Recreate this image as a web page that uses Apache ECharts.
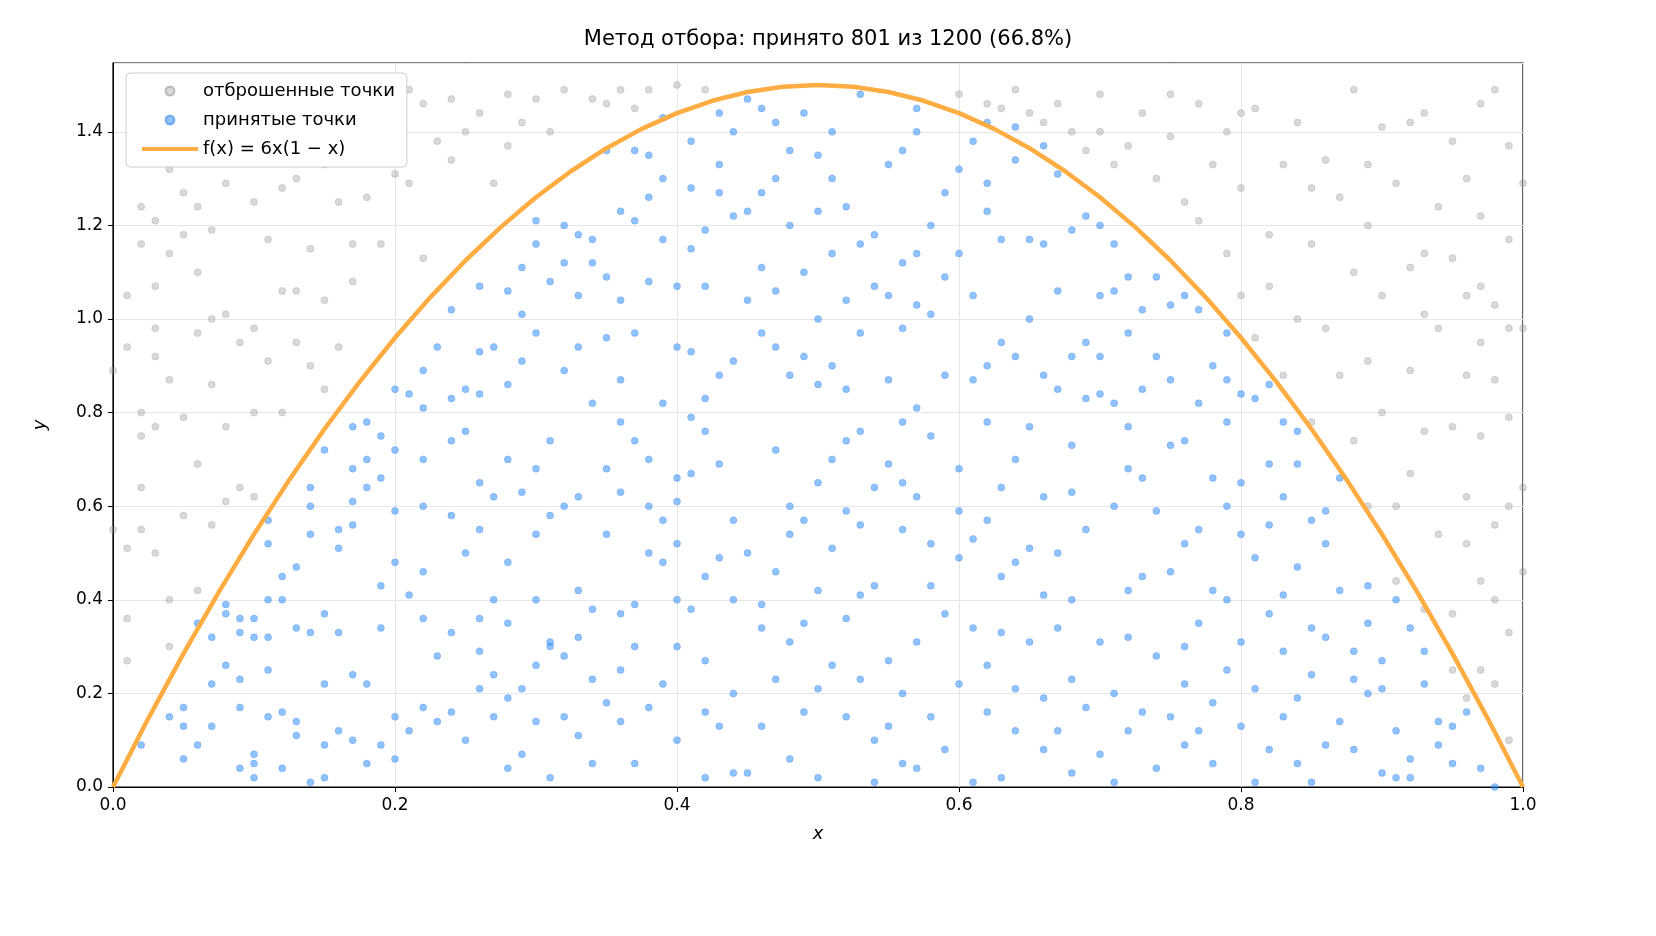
<!DOCTYPE html>
<html>
<head>
<meta charset="utf-8">
<script src="https://cdn.jsdelivr.net/npm/echarts@6/dist/echarts.min.js"></script>
<style>html,body{margin:0;padding:0;background:#fff}#chart{width:1656px;height:936px}</style>
</head>
<body>
<div id="chart"></div>
<script>
// точки (x y)
var acceptedRaw = "0.02 0.09,0.05 0.06,0.05 0.13,0.05 0.17,0.07 0.13,0.07 0.22,0.07 0.32,0.06 0.35,0.08 0.37,0.08 0.39,0.09 0.33,0.09 0.36,0.09 0.23,0.09 0.17,0.09 0.04,0.10 0.07,0.10 0.05,0.10 0.02,0.10 0.32,0.10 0.36,0.11 0.32,0.11 0.40,0.11 0.52,0.11 0.57,0.12 0.45,0.12 0.40,0.12 0.16,0.12 0.04,0.11 0.15,0.13 0.34,0.13 0.14,0.13 0.11,0.14 0.01,0.14 0.33,0.14 0.54,0.14 0.60,0.14 0.64,0.15 0.72,0.15 0.37,0.15 0.22,0.15 0.09,0.15 0.02,0.16 0.12,0.16 0.33,0.16 0.55,0.17 0.56,0.17 0.61,0.17 0.68,0.17 0.77,0.17 0.24,0.17 0.10,0.18 0.05,0.18 0.22,0.18 0.64,0.18 0.70,0.18 0.78,0.19 0.75,0.19 0.43,0.19 0.34,0.19 0.09,0.20 0.15,0.20 0.06,0.20 0.48,0.20 0.59,0.20 0.72,0.20 0.85,0.21 0.84,0.21 0.41,0.21 0.12,0.22 0.17,0.22 0.36,0.22 0.60,0.22 0.70,0.22 0.81,0.23 0.28,0.23 0.14,0.23 0.94,0.24 0.74,0.24 0.83,0.24 0.58,0.24 0.33,0.24 0.16,0.25 0.10,0.25 0.85,0.25 0.76,0.25 0.50,0.26 0.29,0.26 0.21,0.26 0.36,0.26 0.65,0.26 0.84,0.26 0.93,0.26 1.07,0.27 0.94,0.27 0.62,0.27 0.40,0.27 0.24,0.28 0.04,0.28 0.19,0.28 0.35,0.28 0.48,0.28 0.70,0.28 0.86,0.28 1.06,0.29 1.01,0.29 0.91,0.29 0.63,0.29 0.21,0.29 0.07,0.30 0.14,0.30 0.26,0.30 0.40,0.30 0.54,0.30 0.68,0.30 0.97,0.30 1.16,0.30 1.21,0.31 1.08,0.31 0.74,0.31 0.58,0.31 0.31,0.31 0.30,0.32 0.15,0.32 0.28,0.32 0.60,0.32 0.89,0.32 1.12,0.32 1.20,0.33 1.05,0.33 0.94,0.33 0.62,0.33 0.42,0.33 0.32,0.33 0.11,0.34 0.05,0.34 0.23,0.34 0.38,0.34 0.82,0.34 1.12,0.34 1.17,0.35 1.09,0.35 0.96,0.35 0.68,0.35 0.18,0.36 0.14,0.36 0.25,0.36 0.37,0.36 0.63,0.36 0.78,0.36 1.04,0.36 1.23,0.37 1.36,0.37 1.21,0.37 0.97,0.37 0.74,0.37 0.39,0.37 0.30,0.37 0.05,0.38 0.17,0.38 0.50,0.38 0.60,0.38 0.70,0.38 1.08,0.38 1.35,0.39 1.43,0.39 1.30,0.39 1.17,0.39 0.82,0.39 0.48,0.39 0.22,0.40 0.10,0.40 0.30,0.40 0.40,0.40 0.61,0.40 0.66,0.40 0.94,0.40 1.07,0.41 1.15,0.41 1.28,0.41 1.38,0.41 0.93,0.41 0.79,0.41 0.67,0.41 0.38,0.42 0.16,0.42 0.02,0.42 0.27,0.42 0.45,0.42 0.76,0.42 0.83,0.42 1.07,0.43 1.27,0.43 1.33,0.43 1.44,0.43 0.88,0.43 0.49,0.43 0.13,0.44 0.03,0.44 0.20,0.44 0.40,0.44 0.57,0.44 1.22,0.44 1.40,0.45 1.47,0.45 1.23,0.45 1.04,0.45 0.50,0.45 0.03,0.46 0.13,0.46 0.39,0.46 0.34,0.46 0.97,0.46 1.11,0.46 1.45,0.47 1.42,0.47 1.30,0.47 1.06,0.47 0.94,0.47 0.72,0.47 0.23,0.48 0.31,0.48 0.54,0.48 0.60,0.48 0.88,0.48 1.20,0.48 1.36,0.49 1.44,0.49 1.10,0.49 0.92,0.49 0.57,0.49 0.35,0.49 0.16,0.50 0.02,0.50 0.21,0.50 0.42,0.50 0.65,0.50 0.86,0.50 1.00,0.50 1.23,0.51 1.40,0.51 1.30,0.51 1.14,0.51 0.90,0.51 0.70,0.51 0.51,0.51 0.26,0.52 0.15,0.52 0.36,0.52 0.59,0.52 0.74,0.52 1.04,0.52 1.24,0.53 1.48,0.53 1.16,0.53 0.97,0.53 0.76,0.53 0.56,0.53 0.41,0.53 0.23,0.54 0.01,0.54 0.10,0.54 0.43,0.54 0.64,0.54 1.07,0.55 1.33,0.55 1.05,0.55 0.87,0.55 0.69,0.55 0.27,0.55 0.13,0.56 0.05,0.56 0.55,0.56 0.78,0.56 0.98,0.56 1.12,0.56 1.36,0.57 1.45,0.57 1.40,0.57 1.14,0.57 1.03,0.57 0.81,0.57 0.62,0.57 0.31,0.57 0.04,0.58 0.15,0.58 0.43,0.58 0.75,0.58 1.01,0.58 1.20,0.59 1.27,0.59 1.09,0.59 0.88,0.59 0.37,0.59 0.08,0.60 0.22,0.60 0.49,0.60 0.68,0.60 1.14,0.60 1.32,0.61 1.38,0.61 1.05,0.61 0.87,0.61 0.53,0.61 0.34,0.61 0.01,0.62 0.16,0.62 0.26,0.62 0.57,0.62 0.78,0.62 1.23,0.62 1.29,0.63 1.17,0.63 0.95,0.63 0.64,0.63 0.45,0.63 0.33,0.63 0.02,0.64 0.12,0.64 0.21,0.64 0.48,0.64 0.92,0.64 1.34,0.64 1.41,0.65 1.17,0.65 1.00,0.65 0.77,0.65 0.51,0.65 0.31,0.66 0.08,0.66 0.19,0.66 0.41,0.66 0.62,0.66 0.88,0.66 1.16,0.67 1.31,0.67 1.06,0.67 0.85,0.67 0.50,0.67 0.34,0.67 0.12,0.68 0.03,0.68 0.23,0.68 0.40,0.68 0.63,0.68 0.92,0.68 1.19,0.69 1.22,0.69 0.95,0.69 0.83,0.69 0.55,0.69 0.17,0.70 0.07,0.70 0.31,0.70 0.84,0.70 0.92,0.70 1.05,0.70 1.20,0.71 1.16,0.71 1.06,0.71 0.82,0.71 0.60,0.71 0.20,0.71 0.01,0.72 0.12,0.72 0.32,0.72 0.68,0.72 0.77,0.72 0.97,0.73 1.02,0.73 0.85,0.73 0.66,0.73 0.45,0.73 0.16,0.74 0.04,0.74 0.28,0.74 0.59,0.74 0.92,0.74 1.09,0.75 1.03,0.75 0.87,0.75 0.73,0.75 0.46,0.75 0.15,0.76 0.09,0.76 0.22,0.76 0.52,0.76 0.74,0.76 1.05,0.77 1.02,0.77 0.82,0.77 0.55,0.77 0.35,0.77 0.12,0.78 0.05,0.78 0.18,0.78 0.42,0.78 0.66,0.78 0.90,0.79 0.97,0.79 0.78,0.79 0.60,0.79 0.40,0.79 0.25,0.80 0.13,0.80 0.31,0.80 0.65,0.80 0.84,0.81 0.83,0.81 0.49,0.81 0.21,0.81 0.01,0.82 0.08,0.82 0.37,0.82 0.56,0.82 0.69,0.82 0.86,0.83 0.78,0.83 0.62,0.83 0.41,0.83 0.29,0.83 0.15,0.84 0.05,0.84 0.19,0.84 0.47,0.84 0.69,0.85 0.57,0.85 0.34,0.85 0.24,0.85 0.01,0.86 0.09,0.86 0.32,0.86 0.59,0.87 0.42,0.87 0.14,0.87 0.66,0.88 0.29,0.88 0.08,0.89 0.20,0.89 0.43,0.89 0.35,0.90 0.03,0.90 0.27,0.90 0.21,0.91 0.02,0.91 0.12,0.91 0.40,0.92 0.06,0.92 0.34,0.93 0.22,0.93 0.29,0.94 0.14,0.94 0.09,0.95 0.13,0.95 0.05,0.96 0.16,0.97 0.04,0.98 0.00,0.92 0.02,0.88 0.23,0.86 0.52,0.84 0.76,0.79 0.87,0.72 1.09,0.66 1.37,0.62 1.42,0.54 1.18,0.46 1.27,0.42 1.19,0.38 1.26,0.35 1.36,0.33 1.18,0.29 1.11,0.24 1.02,0.22 0.89,0.19 0.66,0.16 0.51,0.13 0.47,0.11 0.25,0.08 0.26,0.06 0.09,0.04 0.15,0.27 0.15,0.31 0.02,0.35 0.54,0.39 0.57,0.43 0.69,0.47 0.46,0.52 0.85,0.56 0.65,0.60 0.59,0.64 0.70,0.68 0.73,0.72 0.42,0.76 0.30,0.80 0.54,0.48 0.06,0.58 0.52,0.62 0.90,0.44 0.91,0.36 0.87,0.50 1.35,0.56 0.20,0.40 0.52,0.26 0.55,0.22 0.46";
var rejectedRaw = "0.00 0.89,0.00 0.55,0.01 1.05,0.01 0.94,0.01 0.51,0.01 0.27,0.01 0.36,0.02 1.24,0.02 1.16,0.02 0.80,0.02 0.75,0.02 0.64,0.02 0.55,0.03 1.21,0.03 1.07,0.03 0.98,0.03 0.92,0.03 0.77,0.03 0.50,0.04 1.32,0.04 1.14,0.04 0.87,0.04 0.40,0.04 0.30,0.05 1.48,0.05 1.27,0.05 1.18,0.05 0.79,0.05 0.58,0.06 1.36,0.06 1.10,0.06 0.97,0.06 0.69,0.06 0.42,0.07 1.45,0.07 1.19,0.07 1.00,0.07 0.86,0.07 0.56,0.08 1.29,0.08 1.01,0.08 0.77,0.08 0.61,0.09 1.45,0.09 1.37,0.09 0.95,0.09 0.64,0.10 1.25,0.10 0.98,0.10 0.80,0.10 0.62,0.11 1.37,0.11 1.17,0.11 0.91,0.12 1.44,0.12 1.28,0.12 0.80,0.13 1.30,0.13 1.06,0.13 0.95,0.14 1.41,0.14 1.15,0.14 0.90,0.15 1.33,0.15 1.04,0.15 0.85,0.16 1.25,0.16 0.94,0.17 1.40,0.17 1.16,0.17 1.08,0.18 1.48,0.18 1.26,0.19 1.37,0.19 1.16,0.20 1.44,0.20 1.31,0.21 1.29,0.22 1.46,0.22 1.13,0.23 1.38,0.24 1.34,0.25 1.40,0.26 1.44,0.27 1.29,0.28 1.37,0.29 1.42,0.30 1.47,0.31 1.40,0.32 1.49,0.34 1.47,0.35 1.46,0.36 1.49,0.37 1.45,0.38 1.49,0.40 1.50,0.42 1.49,0.60 1.48,0.62 1.46,0.63 1.45,0.65 1.44,0.66 1.42,0.67 1.46,0.68 1.40,0.69 1.36,0.70 1.40,0.71 1.33,0.72 1.37,0.73 1.44,0.74 1.30,0.75 1.39,0.76 1.25,0.77 1.46,0.77 1.21,0.78 1.33,0.79 1.14,0.79 1.40,0.80 1.05,0.80 1.28,0.81 0.96,0.81 1.45,0.82 1.18,0.82 1.07,0.83 0.88,0.83 1.33,0.84 1.42,0.84 1.00,0.85 0.78,0.85 1.16,0.86 1.34,0.86 0.98,0.87 0.88,0.87 1.26,0.88 1.49,0.88 0.74,0.88 1.10,0.89 0.91,0.89 1.20,0.89 0.60,0.90 1.41,0.90 1.05,0.90 0.80,0.91 1.29,0.91 0.60,0.91 0.44,0.92 1.42,0.92 1.11,0.92 0.89,0.92 0.67,0.93 1.44,0.93 1.01,0.93 0.76,0.93 0.38,0.94 1.24,0.94 0.98,0.94 0.54,0.95 1.38,0.95 1.13,0.95 0.77,0.95 0.37,0.95 0.25,0.96 1.30,0.96 1.05,0.96 0.88,0.96 0.62,0.96 0.52,0.96 0.19,0.97 1.46,0.97 1.22,0.97 0.95,0.97 0.75,0.97 0.44,0.97 0.25,0.98 1.49,0.98 1.03,0.98 0.87,0.98 0.56,0.98 0.40,0.98 0.22,0.99 1.37,0.99 1.17,0.99 0.79,0.99 0.60,0.99 0.33,0.99 0.10,1.00 1.29,1.00 0.98,1.00 0.64,1.00 0.46,0.02 1.36,0.06 1.24,0.12 1.06,0.16 1.36,0.21 1.49,0.24 1.47,0.28 1.48,0.64 1.49,0.70 1.48,0.75 1.48,0.80 1.44,0.85 1.28,0.89 1.33,0.93 1.14,0.97 1.07,0.99 0.98";

// кривая f(x) = 6x(1-x), шаг 0.025
var curveX = [0,0.025,0.05,0.075,0.1,0.125,0.15,0.175,0.2,0.225,0.25,0.275,0.3,0.325,0.35,0.375,0.4,0.425,0.45,0.475,0.5,
              0.525,0.55,0.575,0.6,0.625,0.65,0.675,0.7,0.725,0.75,0.775,0.8,0.825,0.85,0.875,0.9,0.925,0.95,0.975,1];
var curveY = [0,0.14625,0.285,0.41625,0.54,0.65625,0.765,0.86625,0.96,1.04625,1.125,1.19625,1.26,1.31625,1.365,1.40625,1.44,1.46625,1.485,1.49625,1.5,
              1.49625,1.485,1.46625,1.44,1.40625,1.365,1.31625,1.26,1.19625,1.125,1.04625,0.96,0.86625,0.765,0.65625,0.54,0.41625,0.285,0.14625,0];

function parse(s) {
    return s.split(',').map(function (p) { var a = p.split(' '); return [+a[0], +a[1]]; });
}
var accepted = parse(acceptedRaw);
var rejected = parse(rejectedRaw);
var curve = curveX.map(function (x, i) { return [x, curveY[i]]; });

var myChart = echarts.init(document.getElementById('chart'));
var font = 'DejaVu Sans';
myChart.setOption({
    animation: false,
    textStyle: { fontFamily: font },
    title: {
        text: 'Метод отбора: принято 801 из 1200 (66.8%)',
        left: 'center', top: 24,
        textStyle: { fontFamily: font, fontSize: 21, fontWeight: 'normal', color: '#000' }
    },
    grid: { left: 113, right: 133, top: 63, bottom: 149, show: true, borderColor: '#000', borderWidth: 1.2 },
    legend: {
        orient: 'vertical', left: 126, top: 73,
        padding: [9, 12, 9, 16], itemGap: 11,
        backgroundColor: '#fff', borderColor: '#ccc', borderWidth: 1, borderRadius: 4,
        itemWidth: 56, itemHeight: 9,
        textStyle: { fontFamily: font, fontSize: 18, color: '#000' },
        data: [
            { name: 'отброшенные точки', icon: 'circle' },
            { name: 'принятые точки', icon: 'circle' },
            { name: 'f(x) = 6x(1 − x)', icon: 'path://M0,0H56V4H0Z' }
        ]
    },
    xAxis: {
        type: 'value', min: 0, max: 1, interval: 0.2,
        name: 'x', nameLocation: 'middle', nameGap: 38,
        nameTextStyle: { fontFamily: font, fontSize: 18, fontStyle: 'italic', color: '#000' },
        axisLine: { lineStyle: { color: '#000' } },
        axisTick: { lineStyle: { color: '#000' }, length: 5 },
        axisLabel: { fontSize: 17, color: '#000', margin: 10, formatter: function (v) { return v.toFixed(1); } },
        splitLine: { lineStyle: { color: '#e6e6e6' } }
    },
    yAxis: {
        type: 'value', min: 0, max: 1.547, interval: 0.2,
        name: 'y', nameLocation: 'middle', nameGap: 64,
        nameTextStyle: { fontFamily: font, fontSize: 18, fontStyle: 'italic', color: '#000' },
        axisLine: { lineStyle: { color: '#000' } },
        axisTick: { lineStyle: { color: '#000' }, length: 5 },
        axisLabel: { fontSize: 17, color: '#000', margin: 10, showMaxLabel: false, formatter: function (v) { return v.toFixed(1); } },
        splitLine: { lineStyle: { color: '#e6e6e6' } }
    },
    series: [
        {
            name: 'отброшенные точки', type: 'scatter', data: rejected, symbolSize: 7,
            itemStyle: { color: 'rgba(150,150,150,0.45)', borderColor: 'rgba(110,110,110,0.5)', borderWidth: 0.5 }
        },
        {
            name: 'принятые точки', type: 'scatter', data: accepted, symbolSize: 7,
            itemStyle: { color: 'rgba(40,140,255,0.65)', borderColor: 'rgba(30,110,230,0.6)', borderWidth: 0.5 }
        },
        {
            name: 'f(x) = 6x(1 − x)', type: 'line', data: curve, symbol: 'none',
            lineStyle: { color: '#ffad42', width: 4.5 }, itemStyle: { color: '#ffad42' }, z: 5
        }
    ]
});
window.onresize = myChart.resize;
</script>
</body>
</html>
